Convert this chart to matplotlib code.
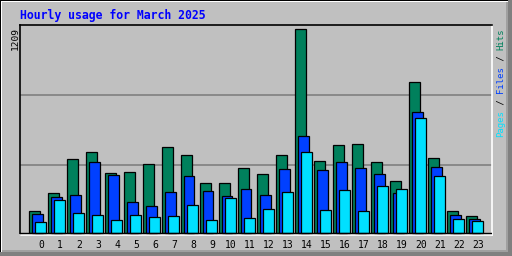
import numpy as np
import matplotlib.pyplot as plt
from matplotlib.patches import Rectangle

hours = list(range(24))
hits = [132, 239, 442, 478, 359, 364, 412, 509, 460, 299, 299, 388,
        348, 460, 1209, 430, 525, 531, 424, 311, 894, 448, 132, 102]
files = [114, 216, 227, 424, 347, 186, 162, 245, 341, 251, 221, 263,
         227, 382, 573, 376, 424, 388, 352, 239, 716, 394, 108, 85]
pages = [67, 198, 120, 108, 79, 108, 96, 102, 168, 79, 210, 91,
         144, 245, 478, 138, 257, 132, 281, 263, 680, 341, 85, 73]

title = "Hourly usage for March 2025"
c_hits = '#00805C'
c_files = '#0040FF'
c_pages = '#00E0FF'
bg = '#C0C0C0'

W, H = 512, 256
fig = plt.figure(figsize=(W / 100, H / 100), dpi=100, facecolor=bg)


def fx(x):
    return x / W


def fy(y):
    return 1 - y / H


# outer 3d frame
def frame(x, y, w, h, color):
    fig.patches.append(Rectangle((fx(x), fy(y + h)), w / W, h / H, transform=fig.transFigure,
                                 facecolor=color, edgecolor='none', zorder=0))


frame(0, 0, W, 1, 'black')
frame(0, 0, 1, H, 'black')
frame(1, 1, W - 1, 1, 'white')
frame(1, 1, 1, H - 1, 'white')
frame(W - 6, 2, 2, H - 4, '#A0A0A0')
frame(2, H - 6, W - 4, 2, '#A0A0A0')
frame(W - 4, 0, 4, H, '#808080')
frame(0, H - 4, W, 4, '#808080')

# plot area
left, right, top, bottom = 20, 491.5, 25, 234.5
ax = fig.add_axes([fx(left), fy(bottom), (right - left) / W, (bottom - top) / H])
ax.set_facecolor(bg)

scale = 1209 / (233 - 29.3)
ax.set_ylim(-(bottom - 233) * scale, (233 - top) * scale)
ax.set_xlim(-9 / 19, (right - 29) / 19)

for gy in (95, 165):
    ax.axhline((233 - gy) * scale, color='#808080', lw=1.2, zorder=0)

x = np.array(hours, dtype=float)
bw = 10.5 / 19
kw = dict(width=bw, align='edge', edgecolor='black', linewidth=0.9)
ax.bar(x, hits, color=c_hits, zorder=2, **kw)
ax.bar(x + 3 / 19, files, color=c_files, zorder=3, **kw)
ax.bar(x + 6.3 / 19, pages, color=c_pages, zorder=4, **kw)
ax.axhline(0, color='black', lw=1, zorder=5)

ax.set_xticks(x + 12 / 19)
ax.set_xticklabels([str(h) for h in hours], family='DejaVu Sans Mono', fontsize=7)
ax.tick_params(axis='x', length=0, pad=4)
ax.set_yticks([])

ax.spines['left'].set_color('black')
ax.spines['top'].set_color('black')
ax.spines['bottom'].set_color('white')
ax.spines['right'].set_color('white')
for s in ax.spines.values():
    s.set_linewidth(1.2)

fig.text(fx(20), fy(19), title, color='#0000FF', family='DejaVu Sans Mono',
         fontweight='bold', fontsize=8.3, va='baseline', ha='left')
fig.text(fx(15), fy(27.5), str(max(hits)), rotation=90, family='DejaVu Sans Mono',
         fontsize=6.8, ha='center', va='top')

# right legend, reading upward
pieces = [("Pages", c_pages), (" / ", 'black'), ("Files", c_files), (" / ", 'black'), ("Hits", c_hits)]
adv = 5.45
y0 = 137
n = 0
for txt, col in pieces:
    fig.text(fx(500.5), fy(y0 - n * adv), txt, rotation=90, rotation_mode='anchor',
             family='DejaVu Sans Mono', fontsize=6.5, color=col, ha='left', va='center')
    n += len(txt)

fig.savefig('out.png', dpi=100, facecolor=bg)
